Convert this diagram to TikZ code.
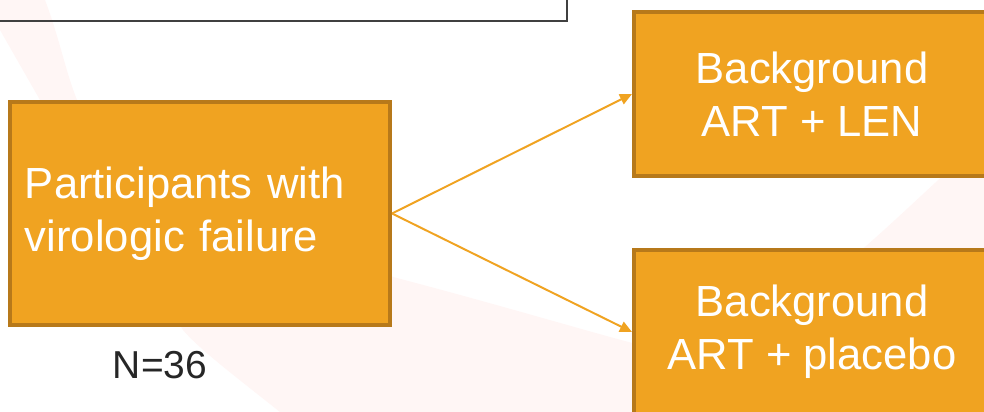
\documentclass[tikz,border=0pt]{standalone}
\usepackage{fontspec}
\setmainfont{Liberation Sans}
\usetikzlibrary{arrows.meta}
\definecolor{armfill}{HTML}{F0A321}
\definecolor{armline}{HTML}{B7791A}
\definecolor{swoosh}{HTML}{FFF6F5}

\begin{document}
\begin{tikzpicture}[x=0.025cm,y=-0.025cm,
    arm/.style={draw=armline,fill=armfill,line width=2.8pt,text=white,font=\fontsize{31}{37.5}\selectfont},
    link/.style={draw=armfill,line width=1.4pt,-{Triangle[length=0.3cm,width=0.27cm]}}]
    \useasboundingbox (0,0) rectangle (984,412);
    \fill[white] (0,0) rectangle (984,412);
    \fill[swoosh] (0,0) -- (45,0) .. controls (60,40) and (65,70) .. (77,100) -- (380,270) -- (393,277)
        .. controls (500,305) and (600,335) .. (640,345) .. controls (760,360) and (850,260) .. (960,160)
        -- (984,140) -- (984,412) -- (280,412) .. controls (240,380) and (200,350) .. (183,330)
        -- (40,100) -- (0,30) -- cycle;
    \draw[black!75,line width=1.1pt] (-10,-10) rectangle (567,21);
    \node[arm,align=left,text width=8.75cm,inner xsep=0.375cm,minimum height=5.575cm] (vf) at (200,213.5) {Participants with\\virologic failure};
    \node[text=black!85,font=\fontsize{27.7}{33}\selectfont] (n) at (160,365) {N=36};
    \node[arm,align=center,minimum width=8.9cm,minimum height=4.1cm] (len) at (812,94) {Background\\ART + LEN};
    \node[arm,align=center,minimum width=8.9cm,minimum height=4.1cm] (pbo) at (812,332) {Background\\ART + placebo};
    \draw[link] (vf.east) -- (len.west);
    \draw[link] (vf.east) -- (pbo.west);
\end{tikzpicture}
\end{document}
